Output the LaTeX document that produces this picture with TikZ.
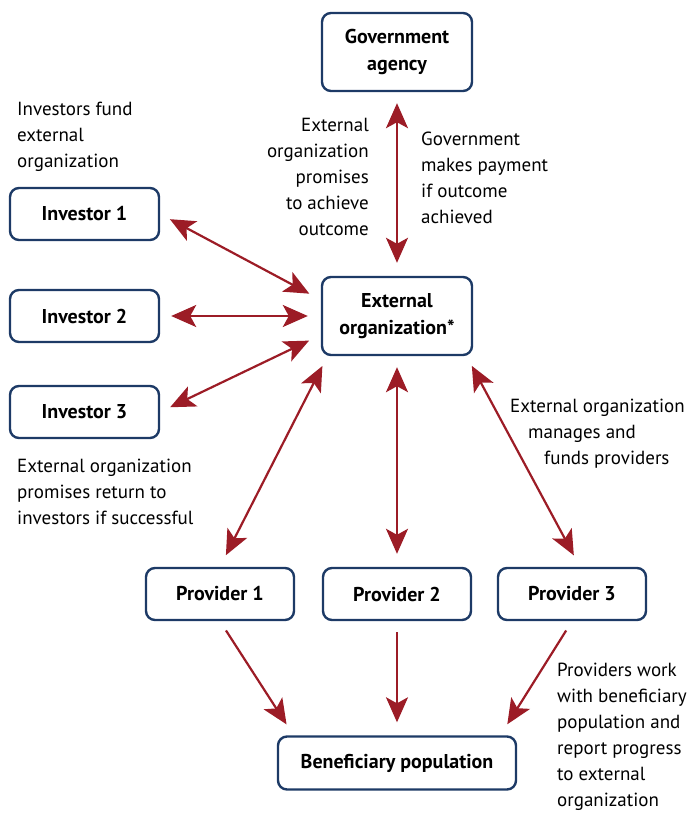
\documentclass[tikz,border=0pt]{standalone}
\usepackage{fontspec}
\setmainfont{PT Sans}
\usepackage{tikz}
\usetikzlibrary{arrows.meta}
\definecolor{boxblue}{HTML}{1D3A66}
\definecolor{arrred}{HTML}{9C1C26}
\begin{document}
\begin{tikzpicture} [x = 1pt, y = -1pt,
  box/.style = {draw = boxblue, line width = 2.4pt, rounded corners = 9pt, font = \fontsize{20}{27}\selectfont\bfseries, align = center, inner sep = 0pt},
  small/.style = {box, minimum width = 149pt, minimum height = 52pt},
  big/.style = {box, minimum width = 150pt, minimum height = 78pt},
  link/.style = {draw = arrred, line width = 2.2pt, shorten < = 11pt, shorten > = 13pt,
    {Stealth[length = 25pt, width = 22pt, inset = 6pt]}-{Stealth[length = 25pt, width = 22pt, inset = 6pt]}},
  oneway/.style = {link, -{Stealth[length = 25pt, width = 22pt, inset = 6pt]}},
  note/.style = {inner sep = 0pt, anchor = north west, align = left, font = \fontsize{19}{26}\selectfont}]
\useasboundingbox (0,0) rectangle (692,814);
\node[big] (gov) at (397,52) {Government\\agency};
\node[big] (ext) at (397,316) {External\\organization*};
\node[small] (inv1) at (84.5,214) {Investor 1};
\node[small] (inv2) at (84.5,316) {Investor 2};
\node[small] (inv3) at (84.5,412) {Investor 3};
\node[small, minimum width = 148pt] (p1) at (220,594) {Provider 1};
\node[small, minimum width = 148pt] (p2) at (397,594) {Provider 2};
\node[small, minimum width = 148pt] (p3) at (572,594) {Provider 3};
\node[box, minimum width = 238pt, minimum height = 53pt] (ben) at (397,763) {Beneficiary population};
% labels
\node[note] (n1) at (17,102) {Investors fund\\external\\organization};
\node[note, align = right, anchor = north east] (n2) at (369,118) {External\\organization\\promises\\to achieve\\outcome};
\node[note] (n3) at (421,132) {Government\\makes payment\\if outcome\\achieved};
\node[note] (n4) at (17,459) {External organization\\promises return to\\investors if successful};
\node[note] (n5) at (510,399) {External organization\\\hspace*{18pt}manages and\\\hspace*{34pt}funds providers};
\node[note] (n6) at (557,663) {Providers work\\with beneficiary\\population and\\report progress\\to external\\organization};
% arrows
\draw[link] (gov.south) -- (ext.north);
\draw[link] (inv1.east) -- (ext.168);
\draw[link] (inv2.east) -- (ext.west);
\draw[link] (inv3.east) -- (ext.194);
\draw[link] (ext.210) -- (p1.north);
\draw[link] (ext.south) -- (p2.north);
\draw[link] (ext.330) -- ([xshift = 8pt]p3.north);
\draw[oneway] (p1.south) -- (ben.165);
\draw[oneway] (p2.south) -- (ben.north);
\draw[oneway] (p3.south) -- (ben.15);
\end{tikzpicture}
\end{document}
